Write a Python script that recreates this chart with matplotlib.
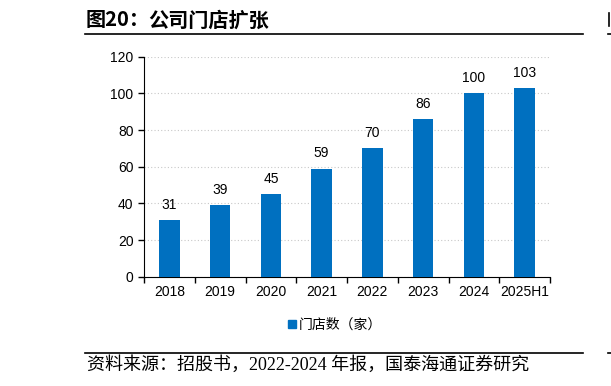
import numpy as np
import matplotlib.pyplot as plt
from matplotlib.lines import Line2D
from matplotlib.patches import Patch

# 数据
years = ['2018', '2019', '2020', '2021', '2022', '2023', '2024', '2025H1']
stores = [31, 39, 45, 59, 70, 86, 100, 103]

plt.rcParams['font.family'] = ['Liberation Sans', 'Noto Sans CJK SC']

fig = plt.figure(figsize=(6.11, 3.86), dpi=100)
ax = fig.add_axes([144 / 611, 0.2832, 406 / 611, 0.570])

x = np.arange(len(years))
ax.bar(x, stores, width=0.40, color='#0070C0', zorder=3)
for xi, v in zip(x, stores):
    ax.text(xi, v + 4.5, str(v), ha='center', va='bottom', fontsize=10)

ax.set_xlim(-0.5, len(years) - 0.5)
ax.set_ylim(0, 120)
ax.set_yticks(range(0, 121, 20))
ax.set_xticks(x)
ax.set_xticklabels(years, fontsize=10)
ax.set_xticks(np.arange(-0.5, len(years), 1), minor=True)
ax.tick_params(axis='x', which='major', length=0, pad=6)
ax.tick_params(axis='x', which='minor', length=4, direction='out', width=1)
ax.tick_params(axis='y', length=4, direction='out', width=1, labelsize=10)
ax.grid(axis='y', linestyle=(0, (1, 2)), color='#c8c8c8', linewidth=0.8, zorder=0)
for s in ['top', 'right']:
    ax.spines[s].set_visible(False)

fig.legend(handles=[Patch(color='#0070C0', label='门店数（家）')],
           loc='center', bbox_to_anchor=(335 / 611, 1 - 325 / 386), frameon=False,
           fontsize=10, handlelength=0.55, handleheight=0.55, handletextpad=0.2)

# 标题与来源
fig.text(86 / 611, 1 - 20 / 386, '图20：', fontsize=14.5, fontweight='bold',
         va='center', ha='left', family=['Noto Sans CJK SC'])
fig.text(148 / 611, 1 - 20 / 386, '公司门店扩张', fontsize=14.5, fontweight='bold',
         va='center', ha='left', family=['Noto Sans CJK SC'])
fig.add_artist(Line2D([85 / 611, 583 / 611], [1 - 33.5 / 386] * 2, color='black', lw=1.2))
fig.add_artist(Line2D([608 / 611, 1.0], [1 - 33.5 / 386] * 2, color='black', lw=1.2))
fig.add_artist(Line2D([608.5 / 611] * 2, [1 - 13 / 386, 1 - 26 / 386], color='black', lw=1.2))
fig.add_artist(Line2D([85 / 611, 583 / 611], [1 - 353 / 386] * 2, color='black', lw=1.2))
fig.add_artist(Line2D([608 / 611, 1.0], [1 - 353 / 386] * 2, color='black', lw=1.2))
fig.text(87 / 611, 1 - 365 / 386, '资料来源：招股书，2022-2024 年报，国泰海通证券研究', fontsize=13,
         va='center', ha='left', family=['Liberation Serif', 'Noto Sans CJK SC'])

fig.savefig('out.png', dpi=100)
